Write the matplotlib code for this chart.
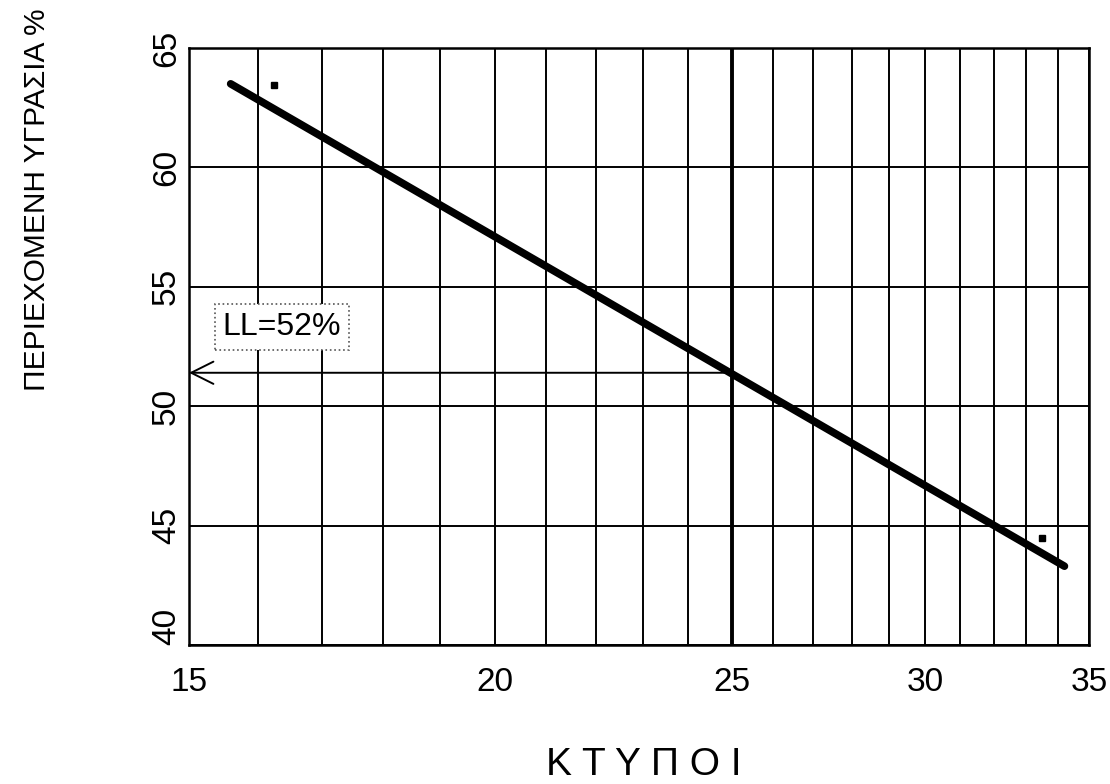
import matplotlib
matplotlib.use("Agg")
import matplotlib.pyplot as plt
from matplotlib.ticker import NullFormatter

plt.rcParams['font.family'] = ['Liberation Sans', 'DejaVu Sans']

# data (blows vs moisture content)
blows = [16.25, 33.5]
moisture = [63.45, 44.5]
fit_x = [15.6, 34.2]
fit_y = [63.5, 43.3]
ll_blows = 25
ll_value = 51.4
x_ticks = [15, 20, 25, 30, 35]
x_grid = list(range(16, 35))
y_ticks = [40, 45, 50, 55, 60, 65]

fig = plt.figure(figsize=(11.1, 7.84), dpi=100)
ax = fig.add_axes([189/1110, 1 - 645/784, 900/1110, 597/784])

ax.set_xscale('log')
ax.set_xlim(15, 35)
ax.set_ylim(40, 65)

ax.set_xticks(x_ticks)
ax.set_xticklabels([str(t) for t in x_ticks], fontsize=24)
ax.set_xticks(x_grid, minor=True)
ax.xaxis.set_minor_formatter(NullFormatter())
ax.set_yticks(y_ticks)
ylabels = ax.set_yticklabels([str(t) for t in y_ticks], fontsize=24, rotation=90, va='center')
ylabels[0].set_va('bottom')   # keep "40" clear of "15" in the corner
ax.tick_params(which='both', length=0)
ax.tick_params(axis='x', pad=16)
ax.tick_params(axis='y', pad=5)

ax.grid(which='both', axis='x', color='black', linewidth=1.4)
ax.grid(which='major', axis='y', color='black', linewidth=1.4)
for s in ax.spines.values():
    s.set_linewidth(1.8)

# 25 blows line and arrow to the liquid limit
ax.axvline(ll_blows, color='black', linewidth=2.8)
ax.annotate('', xy=(15, ll_value), xytext=(ll_blows, ll_value),
            arrowprops=dict(arrowstyle='->', color='black', lw=1.4,
                            mutation_scale=40, shrinkA=0, shrinkB=0))

ax.plot(fit_x, fit_y, color='black', linewidth=5.5, solid_capstyle='round')
ax.plot(blows, moisture, 's', color='black', markersize=5)

ax.text(16.37, 53.3, 'LL=52%', fontsize=23, ha='center', va='center',
        bbox=dict(boxstyle='square,pad=0.25', facecolor='white',
                  edgecolor='#555555', linestyle=':', linewidth=1.2))

fig.text(37/1110, 1 - 200/784, 'ΠΕΡΙΕΧΟΜΕΝΗ ΥΓΡΑΣΙΑ %', fontsize=21.5,
         rotation=90, ha='center', va='center')
fig.text(644/1110, 1 - 765/784, 'Κ Τ Υ Π Ο Ι', fontsize=28,
         ha='center', va='center')

fig.savefig('out.png', dpi=100)
